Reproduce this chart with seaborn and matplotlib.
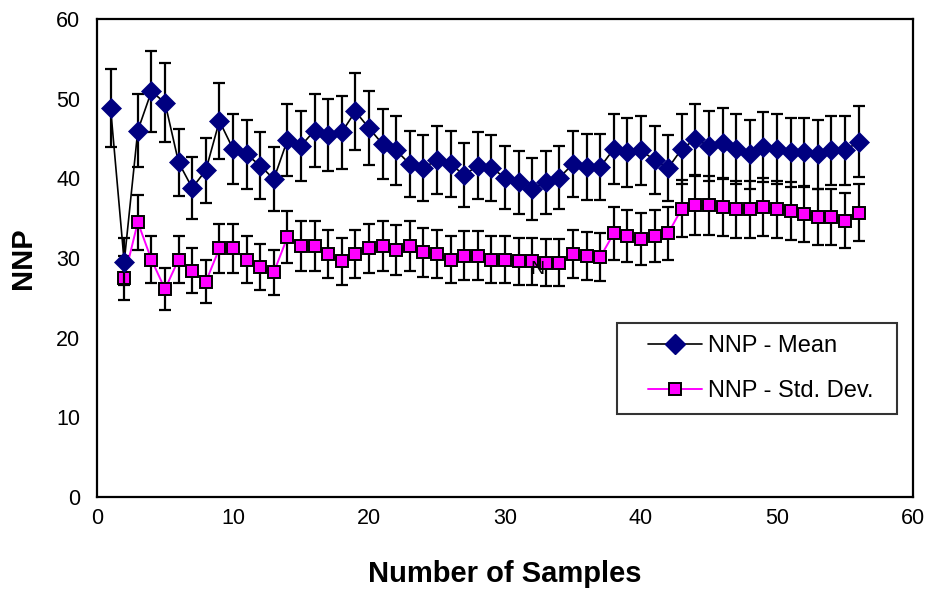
import matplotlib
matplotlib.use("Agg")
import matplotlib.pyplot as plt
from matplotlib.lines import Line2D
from matplotlib.legend_handler import HandlerLine2D
import numpy as np
import pandas as pd
import seaborn as sns

# NNP mean per number of samples (1..56)
mean_samples = list(range(1, 57))
nnp_mean = [48.8, 29.5, 46.0, 50.9, 49.5, 42.0, 38.8, 41.0, 47.2, 43.7,
            43.0, 41.6, 39.9, 44.8, 44.1, 46.0, 45.4, 45.8, 48.4, 46.3,
            44.3, 43.5, 41.8, 41.3, 42.3, 41.8, 40.4, 41.6, 41.3, 40.1,
            39.5, 38.7, 39.5, 40.1, 41.8, 41.4, 41.4, 43.7, 43.3, 43.5,
            42.3, 41.3, 43.7, 44.9, 44.1, 44.4, 43.7, 43.0, 43.9, 43.7,
            43.3, 43.3, 43.0, 43.5, 43.5, 44.6]

# NNP standard deviation per number of samples (2..56)
std_samples = list(range(2, 57))
nnp_std = [27.5, 34.5, 29.8, 26.1, 29.8, 28.4, 27.0, 31.2, 31.2,
           29.8, 28.9, 28.2, 32.6, 31.5, 31.5, 30.5, 29.6, 30.5, 31.2,
           31.5, 31.0, 31.5, 30.7, 30.5, 29.8, 30.3, 30.3, 29.8, 29.8,
           29.6, 29.6, 29.4, 29.4, 30.5, 30.2, 30.1, 33.1, 32.8, 32.4,
           32.8, 33.1, 36.2, 36.6, 36.6, 36.4, 36.1, 36.1, 36.4, 36.1,
           35.9, 35.5, 35.1, 35.2, 34.7, 35.7]

# error bars are drawn as a fixed percentage of each value
ERR_PCT = 0.10

x_ticks = [0, 10, 20, 30, 40, 50, 60]
y_ticks = [0, 10, 20, 30, 40, 50, 60]

sns.set_style("white")
plt.rcParams["font.family"] = ["Liberation Sans", "DejaVu Sans"]
plt.rcParams["text.color"] = "black"
plt.rcParams["axes.labelcolor"] = "black"


class PaddedLineHandler(HandlerLine2D):
    """Legend line that leaves some blank space before the sample line."""

    def __init__(self, lead=0.27, **kw):
        super().__init__(**kw)
        self.lead = lead

    def get_xdata(self, legend, xdescent, ydescent, width, height, fontsize):
        x0 = -xdescent + self.lead * width
        x1 = -xdescent + width
        return np.array([x0, x1]), np.array([(x0 + x1) / 2])


df_mean = pd.DataFrame({"samples": mean_samples, "NNP": nnp_mean})
df_std = pd.DataFrame({"samples": std_samples, "NNP": nnp_std})

fig = plt.figure(figsize=(9.27, 6.01), dpi=100)
ax = fig.add_axes([97 / 927, 1 - 497 / 601, 816 / 927, 478 / 601])

NAVY = "#000080"
MAGENTA = "#FF00FF"

# standard deviation series
ax.errorbar(df_std["samples"], df_std["NNP"], yerr=df_std["NNP"] * ERR_PCT,
            fmt="none", ecolor="black", elinewidth=1.6, capsize=4.6,
            capthick=1.6, zorder=2)
sns.lineplot(data=df_std, x="samples", y="NNP", ax=ax, color=MAGENTA,
             linewidth=1.4, marker="s", markersize=9, markerfacecolor=MAGENTA,
             markeredgecolor="black", markeredgewidth=1.4, zorder=3,
             errorbar=None)

# mean series
ax.errorbar(df_mean["samples"], df_mean["NNP"], yerr=df_mean["NNP"] * ERR_PCT,
            fmt="none", ecolor="black", elinewidth=1.6, capsize=4.6,
            capthick=1.6, zorder=4)
sns.lineplot(data=df_mean, x="samples", y="NNP", ax=ax, color="black",
             linewidth=1.2, marker="D", markersize=10, markerfacecolor=NAVY,
             markeredgecolor=NAVY, markeredgewidth=0.5, zorder=5,
             errorbar=None)

ax.text(32.4, 28.6, "N", fontsize=14, color="black", ha="center",
        va="center", zorder=6)

ax.set_xlim(0, 60)
ax.set_ylim(0, 60)
ax.set_xticks(x_ticks)
ax.set_yticks(y_ticks)
ax.tick_params(direction="in", length=6, width=1.5, labelsize=15.5,
               colors="black")
ax.tick_params(axis="x", pad=8)
ax.tick_params(axis="y", pad=12)
for s in ax.spines.values():
    s.set_visible(True)
    s.set_color("black")
    s.set_linewidth(1.6)

ax.set_xlabel("Number of Samples", fontsize=21, fontweight="bold", labelpad=22)
ax.set_ylabel("NNP", fontsize=21, fontweight="bold", labelpad=14)

handles = [
    Line2D([], [], color="black", linewidth=1.2, marker="D", markersize=10,
           markerfacecolor=NAVY, markeredgecolor=NAVY),
    Line2D([], [], color=MAGENTA, linewidth=1.4, marker="s", markersize=9,
           markerfacecolor=MAGENTA, markeredgecolor="black",
           markeredgewidth=1.4),
]
leg = ax.legend(handles, ["NNP - Mean", "NNP - Std. Dev."],
                loc="upper left",
                bbox_to_anchor=(0.637, 0.178, 0.344, 0.186),
                mode="expand",
                handler_map={Line2D: PaddedLineHandler(lead=0.27)},
                fontsize=17, frameon=True, fancybox=False, shadow=False,
                handlelength=3.1, handletextpad=0.25, labelspacing=1.0,
                borderpad=0.5, borderaxespad=0)
leg.get_frame().set_edgecolor("black")
leg.get_frame().set_linewidth(1.5)

fig.savefig("out.png", dpi=100, facecolor="white")
